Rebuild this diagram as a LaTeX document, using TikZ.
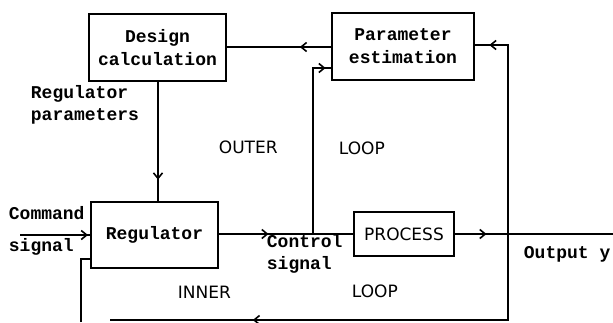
\documentclass[tikz,border=0pt]{standalone}
\usepackage{fontspec}
\setmonofont{Liberation Mono}
\newfontfamily\capsfont{DejaVu Sans}
\usetikzlibrary{arrows.meta,decorations.markings}
\tikzset{mytip/.tip={Straight Barb[length=5.5pt,width=9pt,line width=1.6pt]}}
\begin{document}
\begin{tikzpicture}[x=1pt,y=-1pt,
  line width=1.8pt,
  blk/.style={draw,rectangle,inner sep=0pt,align=center,
    font=\ttfamily\bfseries\fontsize{18}{23}\selectfont},
  lbl/.style={inner sep=0pt,align=left,font=\ttfamily\bfseries\fontsize{18}{22}\selectfont},
  caplbl/.style={inner sep=0pt,font=\capsfont\fontsize{17}{20}\selectfont},
  midarrow/.style={postaction={decorate},decoration={markings,
    mark=at position #1 with {\arrow{mytip}}}}
]
\useasboundingbox (0,0) rectangle (613,322);

% blocks
\node[blk,minimum width=137pt,minimum height=67pt] (des) at (157.5,47.5) {Design\\calculation};
\node[blk,minimum width=142pt,minimum height=67pt] (par) at (403,46.5) {Parameter\\estimation};
\node[blk,minimum width=127pt,minimum height=66pt] (reg) at (154.5,235) {Regulator};
\node[blk,minimum width=100pt,minimum height=44pt,font=\capsfont\fontsize{17}{20}\selectfont] (pro) at (404,234) {PROCESS};

% coordinates
\coordinate (cmd) at (20,235);
\coordinate (split) at (313,234);
\coordinate (pin) at (313,68);
\coordinate (outr) at (508,234);
\coordinate (outtop) at (508,45);
\coordinate (outend) at (613,234);
\coordinate (botr) at (508,320);
\coordinate (botl) at (110,320);
\coordinate (fbb) at (81,322);
\coordinate (fbt) at (81,259);

% connectors
\draw[midarrow=0.3] (par.west |- 0,47) -- (des.east |- 0,47);
\draw[midarrow=0.935] (outr) -- (outtop) -- (par.east |- outtop);
\draw[midarrow=0.97] (split) -- (pin) -- (par.west |- pin);
\draw[midarrow=0.82] (des.south -| 158,0) -- (reg.north -| 158,0);
\draw[midarrow=0.97] (cmd) -- (reg.west |- cmd);
\draw[midarrow=0.37] (reg.east |- split) -- (pro.west |- split);
\draw[midarrow=0.2] (pro.east |- split) -- (outend);
\draw[midarrow=0.705] (outr) -- (botr) -- (botl);
\draw (fbb) -- (fbt) -- (reg.west |- fbt);

% labels
\node[lbl,anchor=west] (rp) at (30,105) {Regulator\\parameters};
\node[lbl,anchor=west] (cmdl) at (8,213) {Command};
\node[lbl,anchor=west] (sigl) at (8,247) {signal};
\node[lbl,anchor=west] (ctl) at (266,254) {Control\\signal};
\node[lbl,anchor=west] (outl) at (523,254) {Output y};
\node[caplbl,anchor=west] (outer) at (218,147) {OUTER};
\node[caplbl,anchor=west] (loop1) at (338,148) {LOOP};
\node[caplbl,anchor=west] (inner) at (177,292) {INNER};
\node[caplbl,anchor=west] (loop2) at (351,291) {LOOP};
\end{tikzpicture}
\end{document}
